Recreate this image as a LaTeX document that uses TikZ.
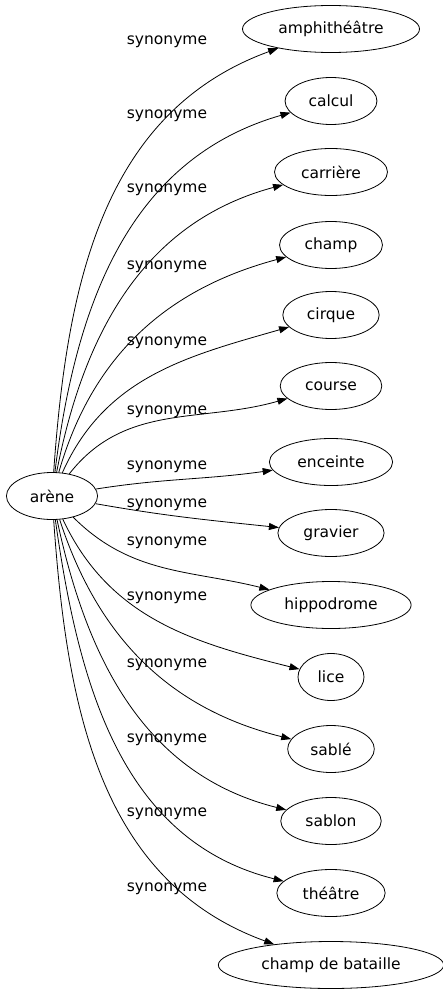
\documentclass[tikz,border=0pt]{standalone}
\usepackage{fontspec}
\setmainfont{DejaVu Sans}
\usetikzlibrary{shapes.geometric,arrows.meta}
\tikzset{
  syn/.style={draw,ellipse,inner xsep=10pt,inner ysep=0pt,minimum height=47pt},
  edge/.style={-{Triangle[length=10pt,width=7pt]},line width=0.8pt},
  lbl/.style={inner sep=0pt}
}
\begin{document}
\begin{tikzpicture}[font=\fontsize{15.5pt}{17pt}\selectfont,x=1pt,y=1pt,line width=0.8pt]
\useasboundingbox (0,0) rectangle (442,-995);

\node[syn] (arene) at (52,-496) {arène};

\foreach \n/\t/\y/\o/\i/\l in {
  amph/amphithéâtre/29/86/200/42,
  calcul/calcul/101/83/196/116,
  carriere/carrière/172/79/195/190,
  champ/champ/245/74/195/267,
  cirque/cirque/315/66/196/343,
  course/course/386/52/196/412,
  enceinte/enceinte/462/9/188/467,
  gravier/gravier/533/-10/174/505,
  hippodrome/hippodrome/605/-45/166/543,
  lice/lice/677/-65/166/598,
  sable/sablé/749/-72/166/665,
  sablon/sablon/821/-78/166/740,
  theatre/théâtre/893/-82/166/814,
  bataille/champ de bataille/965/-86/160/889}
{
  \node[syn] (\n) at (331,-\y) {\t};
  \draw[edge] (arene) to[out=\o,in=\i] (\n);
  \node[lbl] at (167,-\l) {synonyme};
}

\end{tikzpicture}
\end{document}
